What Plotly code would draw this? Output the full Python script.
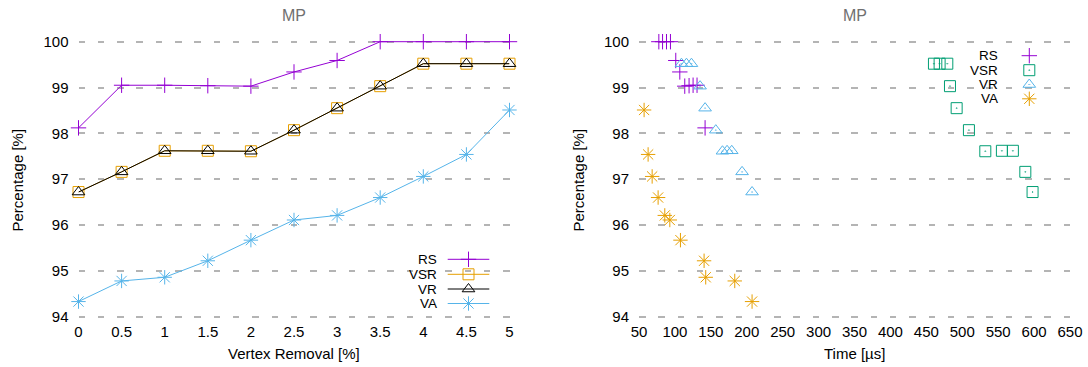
import plotly.graph_objects as go

# ---------------- data ----------------
vertex_removal = [0, 0.5, 1, 1.5, 2, 2.5, 3, 3.5, 4, 4.5, 5]
series_names = ["RS", "VSR", "VR", "VA"]

rs_pct = [98.12, 99.05, 99.05, 99.04, 99.03, 99.34, 99.59, 100, 100, 100, 100]
vsr_pct = [96.72, 97.16, 97.62, 97.62, 97.61, 98.07, 98.55, 99.03, 99.52, 99.52, 99.52]
vr_pct = [96.72, 97.16, 97.62, 97.62, 97.61, 98.07, 98.55, 99.03, 99.52, 99.52, 99.52]
va_pct = [94.33, 94.78, 94.86, 95.22, 95.67, 96.11, 96.21, 96.60, 97.06, 97.54, 98.51]

rs_time = [142.0, 130.8, 125.3, 119.7, 113.7, 106.8, 101.2, 93.8, 88.3, 82.8, 77.6]
vsr_time = [597.9, 587.8, 570.5, 555.2, 532.1, 509.3, 492.2, 482.9, 479.2, 468.5, 460.6]
vr_time = [207.4, 193.5, 179.1, 172.6, 166.2, 156.9, 142.0, 135.0, 123.0, 116.1, 109.1]
va_time = [207.4, 183.3, 142.9, 140.6, 107.7, 92.9, 85.9, 76.6, 68.3, 62.7, 57.1]

y_ticks = [94, 95, 96, 97, 98, 99, 100]
x_ticks_left = [0, 0.5, 1, 1.5, 2, 2.5, 3, 3.5, 4, 4.5, 5]
x_tick_text_left = ["0", "0.5", "1", "1.5", "2", "2.5", "3", "3.5", "4", "4.5", "5"]
x_ticks_right = [50, 100, 150, 200, 250, 300, 350, 400, 450, 500, 550, 600, 650]

# ---------------- styles ----------------
W, H = 1088, 367
FONT = "Liberation Sans"
PURPLE, GREEN, BLUE, ORANGE, BLACK = "#9400D3", "#009E73", "#56B4E9", "#E69F00", "#000000"
GRID = "#b4b4b4"
TXT = 15
LEG_TXT = 13.5

left_colors = [PURPLE, ORANGE, BLACK, BLUE]
left_symbols = ["cross-thin-open", "square-open", "triangle-up-open", "asterisk-open"]
left_sizes = [11, 11, 11, 12]
right_colors = [PURPLE, GREEN, BLUE, ORANGE]
right_symbols = ["cross-thin-open", "square-open-dot", "triangle-up-open-dot", "asterisk-open"]
right_sizes = [11, 11, 11, 12]


def px(x):
    return x / W


def py(y):
    return 1 - y / H


# plot area pixels
L_X0, L_X1 = 78.5, 509.5
R_X0, R_X1 = 639.0, 1070.0
Y100, Y94 = 41.7, 316.7
PAD = 0.1
ppu = (Y94 - Y100) / 6.0
y_top_px = Y100 - PAD * ppu
y_bot_px = Y94 + PAD * ppu

fig = go.Figure()

left_y = [rs_pct, vsr_pct, vr_pct, va_pct]
for name, ys, c, s, sz in zip(series_names, left_y, left_colors, left_symbols, left_sizes):
    fig.add_trace(go.Scatter(
        x=vertex_removal, y=ys, mode="lines+markers", name=name,
        line=dict(color=c, width=1),
        marker=dict(symbol=s, size=sz, color=c, line=dict(color=c, width=1)),
        cliponaxis=False, showlegend=False, xaxis="x", yaxis="y"))

right_x = [rs_time, vsr_time, vr_time, va_time]
right_y = [rs_pct, vsr_pct, vr_pct, va_pct]
for name, xs, ys, c, s, sz in zip(series_names, right_x, right_y, right_colors, right_symbols, right_sizes):
    fig.add_trace(go.Scatter(
        x=xs, y=ys, mode="markers", name=name,
        marker=dict(symbol=s, size=sz, color=c, line=dict(color=c, width=1)),
        cliponaxis=False, showlegend=False, xaxis="x2", yaxis="y2"))

# ---------------- custom legends (text left of sample, as in gnuplot) ----------------
LEG_L_TEXT_X, LEG_L_LINE = 438.5, (447.7, 489.3)
LEG_L_ROWS = [259.3, 274.3, 289.0, 303.5]
LEG_R_TEXT_X, LEG_R_SYM_X = 999.5, 1029.3
LEG_R_ROWS = [55.7, 70.2, 84.5, 98.8]

annotations = []
for i, name in enumerate(series_names):
    yrow = LEG_L_ROWS[i]
    c = left_colors[i]
    fig.add_trace(go.Scatter(
        x=[LEG_L_LINE[0], LEG_L_LINE[1]], y=[yrow, yrow], mode="lines",
        line=dict(color=c, width=1), showlegend=False, hoverinfo="skip",
        xaxis="x3", yaxis="y3"))
    fig.add_trace(go.Scatter(
        x=[(LEG_L_LINE[0] + LEG_L_LINE[1]) / 2], y=[yrow], mode="markers",
        marker=dict(symbol=left_symbols[i], size=left_sizes[i], color=c, line=dict(color=c, width=1)),
        showlegend=False, hoverinfo="skip", cliponaxis=False, xaxis="x3", yaxis="y3"))
    annotations.append(dict(text=name, x=px(LEG_L_TEXT_X), y=py(yrow), xref="paper", yref="paper",
                            xanchor="right", yanchor="middle", showarrow=False,
                            font=dict(family=FONT, size=LEG_TXT, color="#000000")))
    yrow = LEG_R_ROWS[i]
    c = right_colors[i]
    fig.add_trace(go.Scatter(
        x=[LEG_R_SYM_X], y=[yrow], mode="markers",
        marker=dict(symbol=right_symbols[i], size=right_sizes[i], color=c, line=dict(color=c, width=1)),
        showlegend=False, hoverinfo="skip", cliponaxis=False, xaxis="x3", yaxis="y3"))
    annotations.append(dict(text=name, x=px(LEG_R_TEXT_X), y=py(yrow), xref="paper", yref="paper",
                            xanchor="right", yanchor="middle", showarrow=False,
                            font=dict(family=FONT, size=LEG_TXT, color="#000000")))

# titles & axis titles
for cx in [(L_X0 + L_X1) / 2, (R_X0 + R_X1) / 2]:
    annotations.append(dict(text="MP", x=px(cx), y=py(15.5), xref="paper", yref="paper",
                            xanchor="center", yanchor="middle", showarrow=False,
                            font=dict(family=FONT, size=16, color="#707070")))
annotations.append(dict(text="Vertex Removal [%]", x=px((L_X0 + L_X1) / 2), y=py(353.5),
                        xref="paper", yref="paper", xanchor="center", yanchor="middle",
                        showarrow=False, font=dict(family=FONT, size=TXT, color="#000000")))
annotations.append(dict(text="Time [µs]", x=px((R_X0 + R_X1) / 2), y=py(353.5),
                        xref="paper", yref="paper", xanchor="center", yanchor="middle",
                        showarrow=False, font=dict(family=FONT, size=TXT, color="#000000")))
for xt in [16.5, 577.5]:
    annotations.append(dict(text="Percentage [%]", x=px(xt), y=py(180), textangle=-90,
                            xref="paper", yref="paper", xanchor="center", yanchor="middle",
                            showarrow=False, font=dict(family=FONT, size=TXT, color="#000000")))

common_y = dict(range=[94 - PAD, 100 + PAD], tickvals=y_ticks, showgrid=True, gridcolor=GRID,
                gridwidth=1.5, griddash="6.5px,12.8px", zeroline=False, showline=False,
                ticks="", ticklabelstandoff=9, automargin=False,
                tickfont=dict(family=FONT, size=TXT, color="#000000"),
                domain=[py(y_bot_px), py(y_top_px)])
common_x = dict(showgrid=False, zeroline=False, showline=False, ticks="", ticklabelstandoff=0,
                automargin=False,
                tickfont=dict(family=FONT, size=TXT, color="#000000"))

fig.update_layout(
    width=W, height=H,
    margin=dict(l=0, r=0, t=0, b=0, autoexpand=False),
    paper_bgcolor="white", plot_bgcolor="rgba(0,0,0,0)",
    showlegend=False,
    font=dict(family=FONT, size=TXT, color="#000000"),
    xaxis=dict(range=[0, 5], tickvals=x_ticks_left, ticktext=x_tick_text_left,
               domain=[px(L_X0), px(L_X1)], anchor="y", **common_x),
    yaxis=dict(anchor="x", **common_y),
    xaxis2=dict(range=[50, 650], tickvals=x_ticks_right,
                domain=[px(R_X0), px(R_X1)], anchor="y2", **common_x),
    yaxis2=dict(anchor="x2", **common_y),
    xaxis3=dict(range=[0, W], domain=[0, 1], visible=False, anchor="y3", fixedrange=True,
                automargin=False),
    yaxis3=dict(range=[H, 0], domain=[0, 1], visible=False, anchor="x3", fixedrange=True,
                automargin=False),
    annotations=annotations,
)

fig.write_html("out.html", config={"displayModeBar": False},
               post_script="document.body.style.margin='0';document.body.style.padding='0';")
